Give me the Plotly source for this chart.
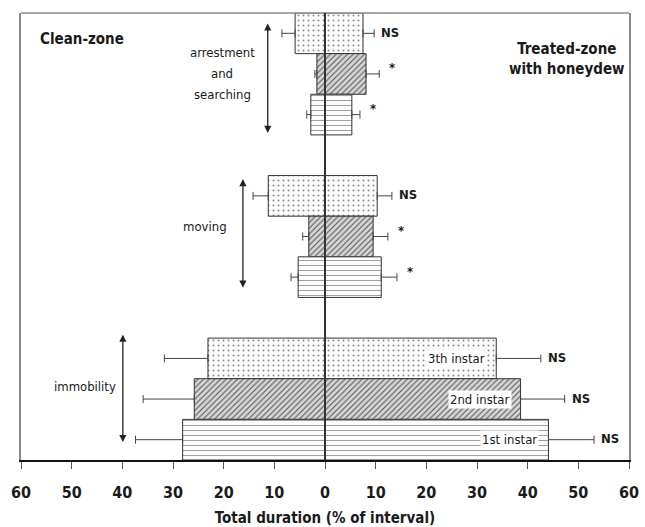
import plotly.graph_objects as go

# ---- data ----
behaviours = ["arrestment and searching", "moving", "immobility"]
instars = ["3th instar", "2nd instar", "1st instar"]
# order per behaviour: 3th, 2nd, 1st
clean_arrest = [5.9, 1.6, 2.8]
clean_moving = [11.2, 3.2, 5.3]
clean_immob = [23.1, 25.8, 28.1]
clean_err_arrest = [2.6, 0.4, 0.8]
clean_err_moving = [3.0, 1.2, 1.4]
clean_err_immob = [8.6, 10.1, 9.3]
treated_arrest = [7.5, 8.1, 5.3]
treated_moving = [10.3, 9.5, 11.1]
treated_immob = [33.8, 38.6, 44.1]
treated_err_arrest = [2.2, 2.6, 1.6]
treated_err_moving = [2.9, 2.9, 3.1]
treated_err_immob = [8.8, 8.7, 9.0]
signif_arrest = ["NS", "*", "*"]
signif_moving = ["NS", "*", "*"]
signif_immob = ["NS", "NS", "NS"]
tick_vals = [-60, -50, -40, -30, -20, -10, 0, 10, 20, 30, 40, 50, 60]
tick_text = ["60", "50", "40", "30", "20", "10", "0", "10", "20", "30", "40", "50", "60"]

# y slots: immobility at bottom (0..2), gap 3, moving (4..6), gap 7, arrest (8..10)
y_arrest = [10, 9, 8]
y_moving = [6, 5, 4]
y_immob = [2, 1, 0]

ys = y_arrest + y_moving + y_immob
clean = clean_arrest + clean_moving + clean_immob
clean_err = clean_err_arrest + clean_err_moving + clean_err_immob
treated = treated_arrest + treated_moving + treated_immob
treated_err = treated_err_arrest + treated_err_moving + treated_err_immob
signif = signif_arrest + signif_moving + signif_immob
instar_idx = [0, 1, 2] * 3

styles = [
    dict(shape=".", fgcolor="#8a8a8a", bgcolor="#fcfcfc", size=5, solidity=0.12),
    dict(shape="/", fgcolor="#555555", bgcolor="#d6d6d6", size=4, solidity=0.27),
    dict(shape="-", fgcolor="#606060", bgcolor="#fcfcfc", size=5, solidity=0.12),
]

FONT = "DejaVu Sans Condensed, Liberation Sans Narrow, Arial Narrow, Liberation Sans, sans-serif"
TXT = "#1a1a1a"

fig = go.Figure()
for k in range(3):
    sel = [j for j, i in enumerate(instar_idx) if i == k]
    st = styles[k]
    pat = dict(fillmode="replace", **st)
    # clean-zone (negative side)
    fig.add_trace(go.Bar(
        y=[ys[j] for j in sel], x=[-clean[j] for j in sel], orientation="h", width=1,
        marker=dict(color=st["bgcolor"], pattern=pat,
                    line=dict(color="#333333", width=1)),
        error_x=dict(type="data", symmetric=False, array=[0] * len(sel),
                     arrayminus=[clean_err[j] for j in sel],
                     color="#444444", thickness=1, width=4),
        showlegend=False, hoverinfo="skip",
    ))
    # treated-zone (positive side)
    fig.add_trace(go.Bar(
        y=[ys[j] for j in sel], x=[treated[j] for j in sel], orientation="h", width=1,
        marker=dict(color=st["bgcolor"], pattern=pat,
                    line=dict(color="#333333", width=1)),
        error_x=dict(type="data", symmetric=False,
                     array=[treated_err[j] for j in sel],
                     arrayminus=[0] * len(sel), color="#444444", thickness=1, width=4),
        showlegend=False, hoverinfo="skip",
    ))

annotations = []
# significance labels
for y, t, e, s in zip(ys, treated, treated_err, signif):
    annotations.append(dict(
        x=t + e, y=y, xref="x", yref="y", text=s, showarrow=False,
        xanchor="left", xshift=5 if s == "NS" else 8,
        yshift=1 if s == "NS" else 6,
        font=dict(family=FONT, size=13, weight="bold", color=TXT)))
# instar labels inside immobility bars
for y, t, name in zip(y_immob, treated_immob, instars):
    annotations.append(dict(
        x=t, y=y, xref="x", yref="y", text=name, showarrow=False,
        xanchor="right", xshift=-9, bgcolor="white", borderpad=1,
        font=dict(family=FONT, size=13, color=TXT)))

# behaviour labels
for i, line in enumerate(["arrestment", "and", "searching"]):
    annotations.append(dict(
        x=-20.3, y=9.0, xref="x", yref="y", text=line, showarrow=False,
        yshift=21 - 21 * i, font=dict(family=FONT, size=13, color=TXT)))
annotations.append(dict(x=-23.6, y=5.25, xref="x", yref="y", text="moving",
                        showarrow=False, font=dict(family=FONT, size=13, color=TXT)))
annotations.append(dict(x=-47.3, y=1.3, xref="x", yref="y", text="immobility",
                        showarrow=False, font=dict(family=FONT, size=13, color=TXT)))

# double-headed arrows
for xa, y0, y1 in [(-11.3, 10.28, 7.55), (-16.2, 6.45, 3.74), (-39.9, 2.62, -0.06)]:
    annotations.append(dict(
        x=xa, y=y1, ax=xa, ay=y0, xref="x", yref="y", axref="x", ayref="y",
        text="", showarrow=True, arrowside="end+start", arrowhead=2,
        arrowsize=1.1, arrowwidth=1.3, arrowcolor="#222222"))

# zone titles
annotations.append(dict(x=0.028, y=0.967, xref="paper", yref="paper",
                        text="Clean-zone", showarrow=False, xanchor="left",
                        font=dict(family=FONT, size=15, weight="bold", color=TXT)))
annotations.append(dict(x=0.898, y=0.945, xref="paper", yref="paper",
                        text="Treated-zone<br>with honeydew", showarrow=False,
                        xanchor="center",
                        font=dict(family=FONT, size=15, weight="bold", color=TXT)))

fig.update_layout(
    width=645, height=527,
    margin=dict(l=21, r=16, t=13, b=67),
    paper_bgcolor="white", plot_bgcolor="white",
    barmode="overlay",
    annotations=annotations,
    shapes=[
        dict(type="line", xref="paper", yref="paper", x0=0, x1=1, y0=1, y1=1,
             line=dict(color="#8a8a8a", width=1.5)),
        dict(type="line", xref="x", yref="paper", x0=0, x1=0, y0=0, y1=1,
             layer="above", line=dict(color="#333333", width=2)),
    ],
    xaxis=dict(
        range=[-60, 60], tickvals=tick_vals, ticktext=tick_text,
        ticks="outside", ticklen=7, tickcolor="#555555", tickwidth=1,
        showline=True, linecolor="#111111", linewidth=1.5,
        zeroline=False, showgrid=False, automargin=False,
        ticklabelstandoff=10,
        tickfont=dict(family=FONT, size=16, weight="bold", color=TXT),
        title=dict(text="Total duration (% of interval)", standoff=14,
                   font=dict(family=FONT, size=15, weight="bold", color=TXT)),
    ),
    yaxis=dict(
        range=[-0.5, 10.5], showticklabels=False, ticks="", showgrid=False,
        zeroline=False, showline=True, mirror=True, linecolor="#8a8a8a",
        linewidth=1.5, automargin=False,
    ),
)

fig.write_html("out.html")
